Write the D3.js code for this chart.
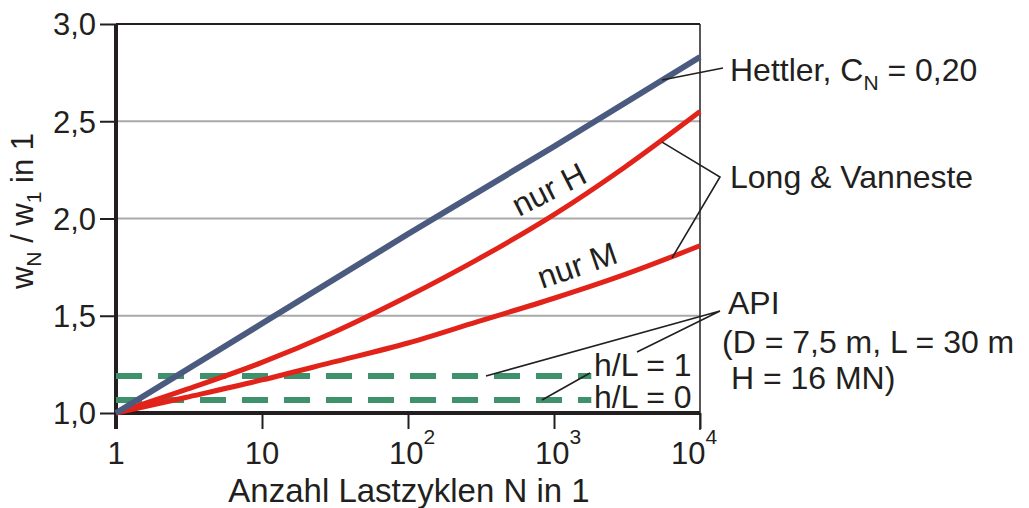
<!DOCTYPE html>
<html>
<head>
<meta charset="utf-8">
<script src="https://cdn.jsdelivr.net/npm/d3@7"></script>
<style>
  html, body { margin: 0; padding: 0; background: #fff; }
  svg { display: block; }
  text { font-family: "Liberation Sans", Arial, sans-serif; fill: #231f20; }
</style>
</head>
<body>
<svg id="chart" width="1029" height="508"></svg>
<script>
// Load cycles N and normalised displacement w_N / w_1
const cycles      = [1, 3, 10, 30, 100, 300, 1000, 3000, 10000];
const longNurH    = [1.00, 1.12, 1.26, 1.41, 1.60, 1.79, 2.02, 2.26, 2.55];
const longNurM    = [1.00, 1.08, 1.17, 1.26, 1.36, 1.47, 1.59, 1.71, 1.86];

// Hettler (C_N = 0.20), read at each decade
const decades     = [1, 10, 100, 1000, 10000];
const hettler     = [1.00, 1.46, 1.92, 2.37, 2.83];

// API constant ratios (h/L = 1 and h/L = 0)
const apiRange    = [1, 1800];
const apiHL1      = 1.19;
const apiHL0      = 1.067;

const yTicks      = [1.0, 1.5, 2.0, 2.5, 3.0];
const xTicks      = [1, 10, 100, 1000, 10000];
const xTickLabels = [["1", ""], ["10", ""], ["10", "2"], ["10", "3"], ["10", "4"]];

const svg = d3.select("#chart");
const ink = "#231f20";

const x = d3.scaleLog().domain([1, 1e4]).range([116, 700]);
const y = d3.scaleLinear().domain([1, 3]).range([413, 24]);

// Horizontal grid lines
svg.append("g").selectAll("line")
  .data(yTicks.filter(v => v > 1 && v < 3))
  .join("line")
  .attr("x1", x(1)).attr("x2", x(1e4))
  .attr("y1", d => y(d)).attr("y2", d => y(d))
  .attr("stroke", "#a7a9ac").attr("stroke-width", 2);

// Top border line
svg.append("line")
  .attr("x1", x(1)).attr("x2", x(1e4))
  .attr("y1", y(3)).attr("y2", y(3))
  .attr("stroke", ink).attr("stroke-width", 2);

// Right border
svg.append("line")
  .attr("x1", x(1e4)).attr("x2", x(1e4))
  .attr("y1", y(3)).attr("y2", y(1) + 17)
  .attr("stroke", ink).attr("stroke-width", 1.5);

// Y axis
const yAxis = svg.append("g")
  .attr("transform", `translate(${x(1)},0)`)
  .call(d3.axisLeft(y).tickValues(yTicks).tickSize(16).tickPadding(4)
    .tickFormat(d => d3.format(".1f")(d).replace(".", ",")));
yAxis.select(".domain").remove();
yAxis.selectAll(".tick line").attr("stroke", ink).attr("stroke-width", 2);
yAxis.selectAll(".tick text")
  .attr("font-size", 31).attr("fill", ink).attr("dy", "0.35em")
  .style("font-family", '"Liberation Sans", Arial, sans-serif');

// X axis
const xAxis = svg.append("g")
  .attr("transform", `translate(0,${y(1)})`)
  .call(d3.axisBottom(x).tickValues(xTicks).tickSize(16).tickFormat(""));
xAxis.select(".domain").remove();
xAxis.selectAll(".tick line").attr("stroke", ink).attr("stroke-width", 2);
xAxis.selectAll(".tick text").remove();

const xLab = svg.append("g").selectAll("text")
  .data(xTicks)
  .join("text")
  .attr("x", (d, i) => x(d) + (i === 4 ? -6 : (i >= 2 ? 4 : 0)))
  .attr("y", y(1) + 51)
  .attr("text-anchor", "middle")
  .attr("font-size", 31);
xLab.append("tspan").text((d, i) => xTickLabels[i][0]);
xLab.append("tspan")
  .attr("font-size", 21).attr("dy", -20)
  .text((d, i) => xTickLabels[i][1]);

// Axis lines (thick left and bottom)
svg.append("line")
  .attr("x1", x(1)).attr("x2", x(1))
  .attr("y1", y(3)).attr("y2", y(1) + 16)
  .attr("stroke", ink).attr("stroke-width", 4);
svg.append("line")
  .attr("x1", x(1) - 2).attr("x2", x(1e4))
  .attr("y1", y(1)).attr("y2", y(1))
  .attr("stroke", ink).attr("stroke-width", 4);

// Axis titles
svg.append("text")
  .attr("x", 409).attr("y", 502)
  .attr("text-anchor", "middle").attr("font-size", 33)
  .text("Anzahl Lastzyklen N in 1");

const yTitle = svg.append("text")
  .attr("transform", "translate(33,211) rotate(-90)")
  .attr("text-anchor", "middle").attr("font-size", 31);
yTitle.append("tspan").text("w");
yTitle.append("tspan").attr("font-size", 21).attr("dy", 8).text("N");
yTitle.append("tspan").attr("dy", -8).text(" / w");
yTitle.append("tspan").attr("font-size", 21).attr("dy", 8).text("1");
yTitle.append("tspan").attr("dy", -8).text(" in 1");

// API dashed lines
const apiLine = d3.line().x(d => x(d[0])).y(d => y(d[1]));
[apiHL1, apiHL0].forEach(v => {
  svg.append("path")
    .attr("d", apiLine(apiRange.map(n => [n, v])))
    .attr("fill", "none")
    .attr("stroke", "#3f916b")
    .attr("stroke-width", 6)
    .attr("stroke-dasharray", "26,16");
});

// Curves
const line = d3.line().x(d => x(d[0])).y(d => y(d[1]));
const smooth = d3.line().x(d => x(d[0])).y(d => y(d[1])).curve(d3.curveMonotoneX);
const series = [
  { n: cycles,  vals: longNurM, color: "#e2231a", width: 5, gen: smooth },
  { n: cycles,  vals: longNurH, color: "#e2231a", width: 5, gen: smooth },
  { n: decades, vals: hettler,  color: "#4b5b80", width: 6, gen: line }
];
series.forEach(s => {
  svg.append("path")
    .attr("d", s.gen(s.n.map((n, i) => [n, s.vals[i]])))
    .attr("fill", "none")
    .attr("stroke", s.color)
    .attr("stroke-width", s.width);
});

// Curve labels
svg.append("text")
  .attr("transform", "translate(519,217) rotate(-27)")
  .attr("font-size", 32).text("nur H");
svg.append("text")
  .attr("transform", "translate(542,289) rotate(-19)")
  .attr("font-size", 32).text("nur M");

// Leader lines
const leader = (pts) => svg.append("path")
  .attr("d", d3.line()(pts))
  .attr("fill", "none").attr("stroke", ink).attr("stroke-width", 1.6);

leader([[x(5500), y(2.712)], [723, 68]]);
leader([[x(5500), y(2.393)], [720, 177], [x(6430), y(1.797)]]);
leader([[x(342), y(apiHL1)], [720, 311], [637, 352]]);
leader([[x(827), y(apiHL0)], [590, 373]]);

// Annotation texts
const hett = svg.append("text").attr("x", 730).attr("y", 81).attr("font-size", 32);
hett.append("tspan").text("Hettler, C");
hett.append("tspan").attr("font-size", 21).attr("dy", 9).text("N");
hett.append("tspan").attr("dy", -9).text(" = 0,20");

svg.append("text").attr("x", 730).attr("y", 188).attr("font-size", 32).text("Long & Vanneste");
svg.append("text").attr("x", 728).attr("y", 314).attr("font-size", 32).text("API");
svg.append("text").attr("x", 722).attr("y", 353).attr("font-size", 32).text("(D = 7,5 m, L = 30 m");
svg.append("text").attr("x", 722).attr("y", 389).attr("font-size", 32).text("\u00a0H = 16 MN)");
svg.append("text").attr("x", 594).attr("y", 376).attr("font-size", 32).text("h/L = 1");
svg.append("text").attr("x", 594).attr("y", 408).attr("font-size", 32).text("h/L = 0");
</script>
</body>
</html>
